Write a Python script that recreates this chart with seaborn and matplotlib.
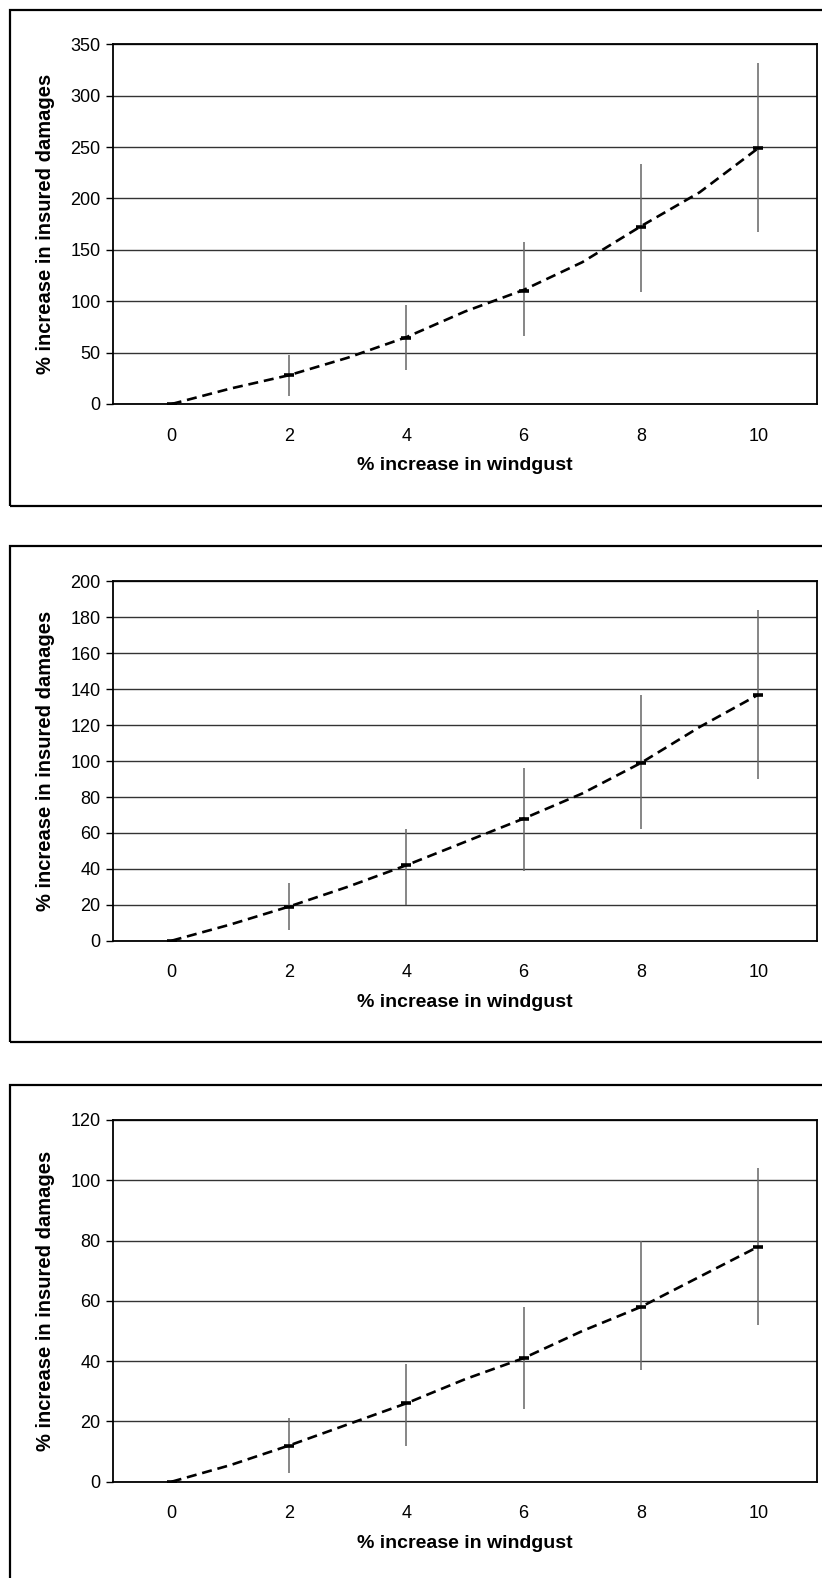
import matplotlib
matplotlib.use("Agg")
import matplotlib.pyplot as plt
import matplotlib.patches as mpatches
import numpy as np
import pandas as pd
import seaborn as sns

# ---------------- data ----------------
windgust = [0, 2, 4, 6, 8, 10]
curve_x = [0, 1, 2, 3, 4, 5, 6, 7, 8, 9, 10]

p1_mean = [0, 28, 64, 110, 172, 249]
p1_low = [0, 8, 33, 66, 109, 167]
p1_high = [0, 48, 96, 158, 234, 332]
p1_curve = [0, 15, 28, 45, 65, 90, 111, 138, 173, 206, 249]

p2_mean = [0, 19, 42, 68, 99, 137]
p2_low = [0, 6, 20, 39, 62, 90]
p2_high = [0, 32, 62, 96, 137, 184]
p2_curve = [0, 9, 19, 30, 42, 55, 68, 82, 99, 119, 137]

p3_mean = [0, 12, 26, 41, 58, 78]
p3_low = [0, 3, 12, 24, 37, 52]
p3_high = [0, 21, 39, 58, 80, 104]
p3_curve = [0, 5.5, 12, 19, 26, 34, 41, 50, 58, 68, 78]

y_max = [350, 200, 120]
y_step = [50, 20, 20]

x_label = "% increase in windgust"
y_label = "% increase in insured damages"

panels = [
    (p1_mean, p1_low, p1_high, p1_curve),
    (p2_mean, p2_low, p2_high, p2_curve),
    (p3_mean, p3_low, p3_high, p3_curve),
]

# ---------------- style ----------------
sns.set_theme(style="white")
plt.rcParams["font.family"] = ["Liberation Sans", "DejaVu Sans"]

W, H = 822, 1578
fig = plt.figure(figsize=(W / 100, H / 100), dpi=100)
fig.patch.set_facecolor("white")

# pixel layout: (plot top, plot bottom, box top, box bottom)
layout = [
    (44.3, 404.0, 9.5, 506.0),
    (581.5, 940.7, 546.0, 1042.0),
    (1120.0, 1481.7, 1085.0, 1600.0),
]
ax_left, ax_right = 113.0, 817.0

for (mean, low, high, curve), ymax, ystep, (top, bot, btop, bbot) in zip(
        panels, y_max, y_step, layout):
    # outer box
    rect = mpatches.Rectangle((10.0 / W, 1 - bbot / H), (840 - 10.0) / W,
                              (bbot - btop) / H, transform=fig.transFigure,
                              fill=False, edgecolor="black", linewidth=1.6,
                              clip_on=False)
    fig.patches.append(rect)

    ax = fig.add_axes([ax_left / W, 1 - bot / H, (ax_right - ax_left) / W,
                       (bot - top) / H])
    ax.set_facecolor("white")

    df_curve = pd.DataFrame({"x": curve_x, "y": curve})
    sns.lineplot(data=df_curve, x="x", y="y", ax=ax, color="black",
                 linewidth=1.9, linestyle=(0, (3.8, 2.2)), zorder=3)

    m = np.array(mean, dtype=float)
    lo = np.array(low, dtype=float)
    hi = np.array(high, dtype=float)
    ax.errorbar(windgust, m, yerr=[m - lo, hi - m], fmt="none",
                ecolor="#666666", elinewidth=1.1, capsize=0, zorder=2)
    ax.plot(windgust, m, linestyle="none", marker="_", markersize=6.5,
            markeredgewidth=2.6, color="black", zorder=4)

    ax.set_xlim(-1, 11)
    ax.set_ylim(0, ymax)
    ax.set_yticks(np.arange(0, ymax + 1, ystep))
    ax.yaxis.grid(True, color="#333333", linewidth=1.0)
    ax.xaxis.grid(False)
    ax.set_axisbelow(True)

    ax.set_xticks([-1, 1, 3, 5, 7, 9, 11])
    ax.set_xticklabels([])
    ax.set_xticks(windgust, minor=True)
    ax.set_xticklabels([str(v) for v in windgust], minor=True)
    ax.tick_params(axis="x", which="major", direction="inout", length=8,
                   width=1.0, color="black")
    ax.tick_params(axis="x", which="minor", length=0, pad=17, labelsize=13,
                   labelcolor="black")
    ax.tick_params(axis="y", which="major", direction="out", length=5,
                   width=1.0, color="black", pad=4, labelsize=13,
                   labelcolor="black", left=True)

    for s in ax.spines.values():
        s.set_visible(True)
        s.set_color("black")
        s.set_linewidth(1.3)

    ax.set_xlabel(x_label, fontsize=14, fontweight="bold", color="black")
    ax.set_ylabel(y_label, fontsize=14.5, fontweight="bold", color="black")
    hpx = bot - top
    ax.xaxis.set_label_coords(0.5, -(62.0 / hpx), transform=ax.transAxes)
    ax.yaxis.set_label_coords((45.5 - ax_left) / (ax_right - ax_left), 0.5,
                              transform=ax.transAxes)
    ax.xaxis.label.set_va("center")
    ax.yaxis.label.set_va("center")

fig.savefig("out.png", dpi=100, facecolor="white")
